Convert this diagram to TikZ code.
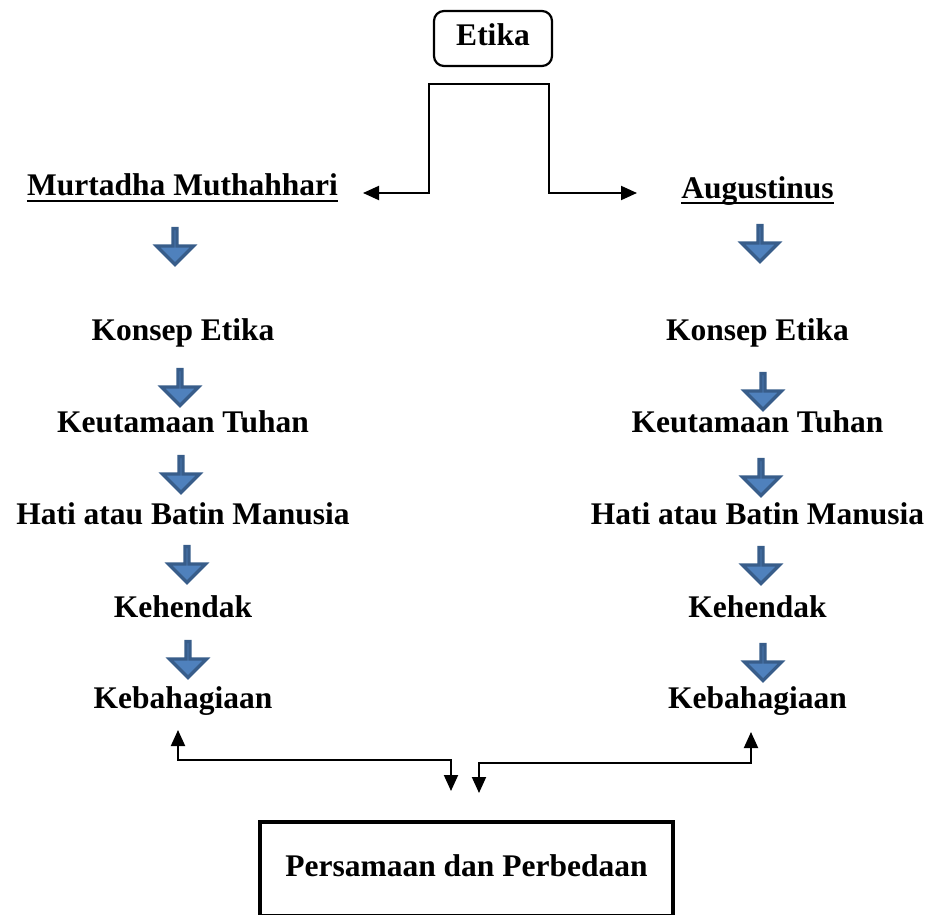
\documentclass[tikz,border=0pt]{standalone}
\usepackage{fontspec}
\setmainfont{Liberation Serif}
\usetikzlibrary{arrows.meta}
\definecolor{arrfill}{RGB}{79,129,189}
\definecolor{arredge}{RGB}{56,93,138}

\begin{document}
\begin{tikzpicture}[x=1pt,y=-1pt,>={Triangle[length=16pt,width=14pt]}]
      \tikzstyle{txt}=[font=\bfseries\fontsize{31.5}{36}\selectfont,inner sep=0pt,anchor=base];
      \tikzstyle{box}=[draw=black,font=\bfseries\fontsize{31.5}{36}\selectfont,text height=21pt,text depth=7pt,inner sep=0pt];
      \tikzstyle{conn}=[->,line width=1.9pt];
      \tikzstyle{uline}=[line width=2.6pt];
      \tikzstyle{flow}=[fill=arrfill,draw=arredge,line width=3.2pt];

      \useasboundingbox (0,0) rectangle (932,915);
      \clip (0,0) rectangle (932,915);

      \node[box,rounded corners=10pt,line width=2.2pt,minimum width=118pt,minimum height=55pt](etika) at (493,38.5) {Etika};
      \node[box,line width=4pt,minimum width=413pt,minimum height=94pt](result) at (466.5,869) {Persamaan dan Perbedaan};

      \node[txt](murt) at (182.5,196) {Murtadha Muthahhari};
      \node[txt](aug) at (757.5,198) {Augustinus};

      \node[txt](mKonsep) at (183,340) {Konsep Etika};
      \node[txt](mKeut) at (183,432) {Keutamaan Tuhan};
      \node[txt](mHati) at (183,524) {Hati atau Batin Manusia};
      \node[txt](mKeh) at (183,617) {Kehendak};
      \node[txt](mKeb) at (183,708) {Kebahagiaan};

      \node[txt](aKonsep) at (757.5,340) {Konsep Etika};
      \node[txt](aKeut) at (757.5,432) {Keutamaan Tuhan};
      \node[txt](aHati) at (757.5,524) {Hati atau Batin Manusia};
      \node[txt](aKeh) at (757.5,617) {Kehendak};
      \node[txt](aKeb) at (757.5,708) {Kebahagiaan};

      \draw[uline] ([yshift=-5pt]murt.base west) -- ([yshift=-5pt]murt.base east);
      \draw[uline] ([yshift=-5pt]aug.base west) -- ([yshift=-5pt]aug.base east);

      % blue block arrows
      \foreach \x/\y in {175/227,180/368,181/455,187/545,188/640,760/224,763/372,761/458,761/546,763/643}
        \filldraw[flow] (\x-2,\y+1.5) -- (\x-2,\y+19) -- (\x-18.5,\y+19) -- (\x,\y+37.5)
          -- (\x+18.5,\y+19) -- (\x+2,\y+19) -- (\x+2,\y+1.5) -- cycle;

      \coordinate (split) at (489,84);
      \coordinate (mTip) at (363,193);
      \coordinate (aTip) at (637,193);
      \draw[conn] (split) -- (429,84) |- (mTip);
      \draw[conn] (split) -- (549,84) |- (aTip);

      \coordinate (mUp) at (178,730);
      \coordinate (mDown) at (451,791);
      \coordinate (aUp) at (751,732);
      \coordinate (aDown) at (479,793);
      \draw[conn,<->] (mUp) |- (451,760) -- (mDown);
      \draw[conn,<->] (aUp) |- (479,763) -- (aDown);

    \end{tikzpicture}
\end{document}
